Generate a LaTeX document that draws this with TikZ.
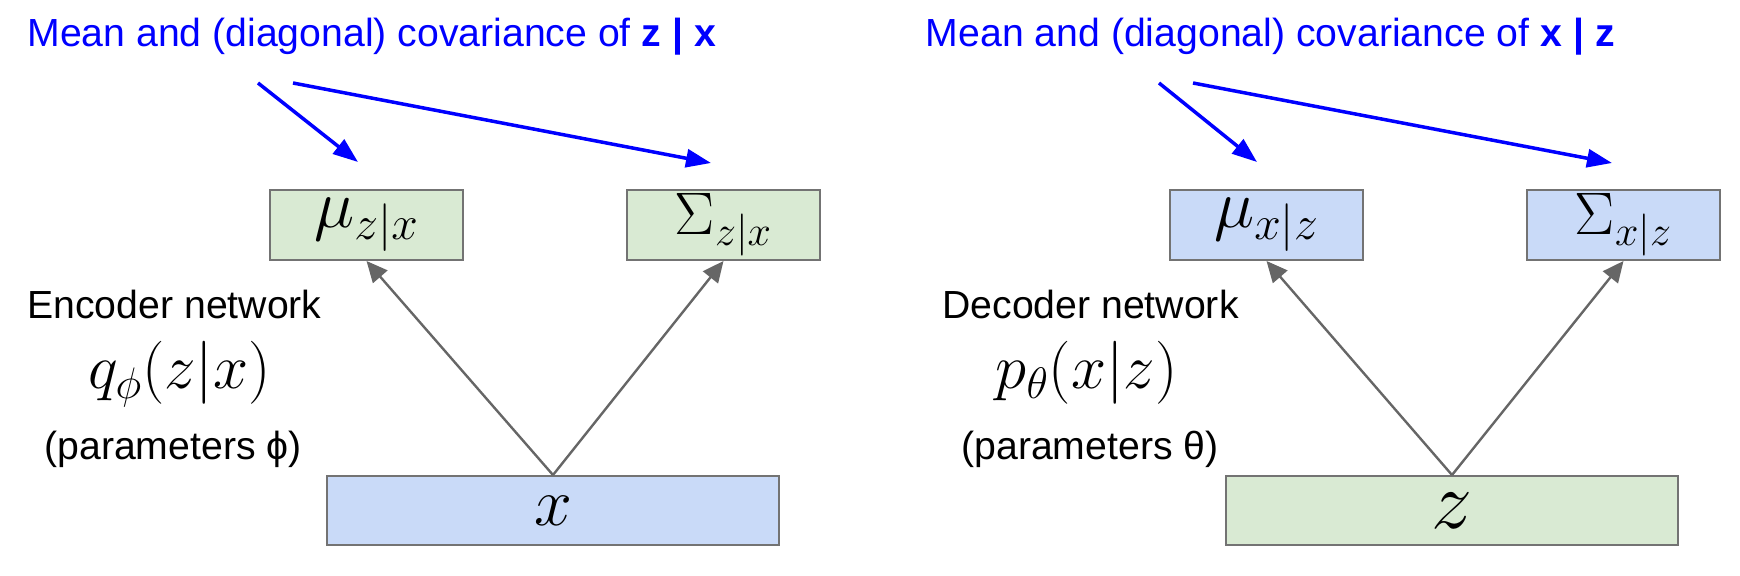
\documentclass[tikz,border=0pt]{standalone}
\usepackage{fix-cm}
\usepackage{fontspec}
\setmainfont{Liberation Sans}
\usetikzlibrary{arrows.meta, positioning}
\definecolor{noteblue}{HTML}{0000FF}
\definecolor{boxgreen}{HTML}{D9EAD3}
\definecolor{boxblue}{HTML}{C9DAF8}
\definecolor{linegray}{HTML}{666666}
\definecolor{edgegray}{HTML}{737373}

\tikzset{
  parambox/.style={draw=edgegray, line width=1pt, minimum width=96.5pt,
                   minimum height=35pt, inner sep=0pt,
                   font=\fontsize{34}{34}\selectfont},
  sigbox/.style={parambox, font=\fontsize{30}{30}\selectfont},
  databox/.style={parambox, minimum width=226pt, minimum height=34.5pt,
                  font=\fontsize{34}{34}\selectfont},
  note/.style={text=noteblue, font=\fontsize{19.6}{22}\selectfont,
               anchor=base west, inner sep=0pt},
  caption/.style={font=\fontsize{19.6}{22}\selectfont, inner sep=0pt},
  netmath/.style={font=\fontsize{31.5}{31.5}\selectfont, inner sep=0pt, anchor=base},
  pointer/.style={noteblue, line width=1.75pt, -{Triangle[length=12.5pt,width=9pt]}},
  feed/.style={linegray, line width=1.2pt, -{Triangle[length=10.5pt,width=9.5pt]}},
}

\begin{document}
\begin{tikzpicture}[x=0.5pt, y=-0.5pt]
\useasboundingbox (0,0) rectangle (1740,576);
%
% encoder half
\node[note] (encnote) at (27,47) {Mean and (diagonal) covariance of \textbf{z | x}};
\node[parambox, fill=boxgreen] (encmu)  at (366.5,225) {$\mu_{z|x}$};
\node[sigbox, fill=boxgreen]   (encsig) at (723.5,225) {$\Sigma_{z|x}$};
\node[databox, fill=boxblue]   (xin)    at (553,510.5) {$x$};
\node[caption, anchor=base west] (enclabel) at (27,319) {Encoder network};
\node[netmath] (encq) at (179.5,389) {$q_\phi(z|x)$};
\node[caption, anchor=base] (encpar) at (173,460) {(parameters ϕ)};
%
\coordinate (encmutail)  at (258,83);
\coordinate (encmuhead)  at (358,162);
\coordinate (encsigtail) at (293,83);
\coordinate (encsighead) at (711,163);
\draw[pointer] (encmutail) -- (encmuhead);
\draw[pointer] (encsigtail) -- (encsighead);
\draw[feed] (xin.north) -- (encmu.south);
\draw[feed] (xin.north) -- (encsig.south);
%
% decoder half
\node[note] (decnote) at (925.5,47) {Mean and (diagonal) covariance of \textbf{x | z}};
\node[parambox, fill=boxblue]  (decmu)  at (1266.5,225) {$\mu_{x|z}$};
\node[sigbox, fill=boxblue]    (decsig) at (1623.5,225) {$\Sigma_{x|z}$};
\node[databox, fill=boxgreen, font=\fontsize{41}{41}\selectfont] (zin) at (1452,510.5) {$z$};
\node[caption, anchor=base west] (declabel) at (942,319) {Decoder network};
\node[netmath] (decp) at (1086.5,389) {$p_\theta(x|z)$};
\node[caption, anchor=base] (decpar) at (1090,460) {(parameters θ)};
%
\coordinate (decmutail)  at (1159,83);
\coordinate (decmuhead)  at (1257,162);
\coordinate (decsigtail) at (1193,83);
\coordinate (decsighead) at (1612,163);
\draw[pointer] (decmutail) -- (decmuhead);
\draw[pointer] (decsigtail) -- (decsighead);
\draw[feed] (zin.north) -- (decmu.south);
\draw[feed] (zin.north) -- (decsig.south);
%
\end{tikzpicture}
\end{document}
